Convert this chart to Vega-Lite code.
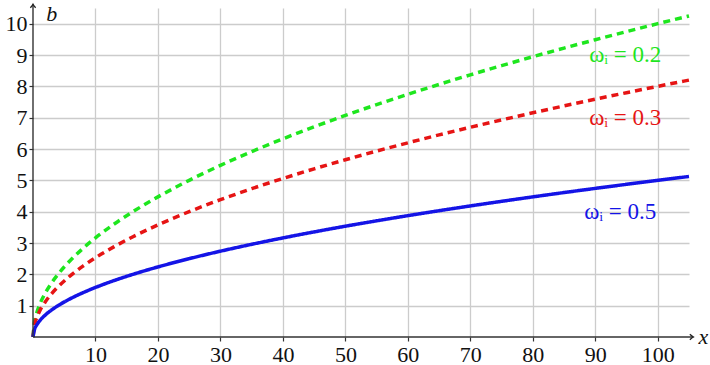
{
  "$schema": "https://vega.github.io/schema/vega-lite/v6.json",
  "width": 656,
  "height": 329,
  "autosize": {"type": "none"},
  "padding": {"left": 33, "top": 8, "right": 21, "bottom": 28},
  "background": "white",
  "config": {
    "view": {"stroke": null},
    "axis": {"labelFont": "Liberation Serif", "labelFontSize": 22, "labelColor": "#111", "labelOverlap": false, "gridColor": "#cccccc", "gridWidth": 1.3, "domain": false, "tickColor": "#333", "tickSize": 4, "tickWidth": 1.2, "title": null}
  },
  "datasets": {
    "curves": [
      {"x": 0, "b": 0, "s": "0.2"}, {"x": 0.25, "b": 0.5, "s": "0.2"}, {"x": 0.5, "b": 0.707, "s": "0.2"}, {"x": 1, "b": 1, "s": "0.2"}, {"x": 2, "b": 1.414, "s": "0.2"}, {"x": 3, "b": 1.732, "s": "0.2"}, {"x": 4, "b": 2, "s": "0.2"}, {"x": 6, "b": 2.449, "s": "0.2"}, {"x": 8, "b": 2.828, "s": "0.2"}, {"x": 10, "b": 3.162, "s": "0.2"}, {"x": 13, "b": 3.606, "s": "0.2"}, {"x": 16, "b": 4, "s": "0.2"}, {"x": 20, "b": 4.472, "s": "0.2"}, {"x": 25, "b": 5, "s": "0.2"}, {"x": 30, "b": 5.477, "s": "0.2"}, {"x": 35, "b": 5.916, "s": "0.2"}, {"x": 40, "b": 6.325, "s": "0.2"}, {"x": 45, "b": 6.708, "s": "0.2"}, {"x": 50, "b": 7.071, "s": "0.2"}, {"x": 55, "b": 7.416, "s": "0.2"}, {"x": 60, "b": 7.746, "s": "0.2"}, {"x": 65, "b": 8.062, "s": "0.2"}, {"x": 70, "b": 8.367, "s": "0.2"}, {"x": 75, "b": 8.66, "s": "0.2"}, {"x": 80, "b": 8.944, "s": "0.2"}, {"x": 85, "b": 9.22, "s": "0.2"}, {"x": 90, "b": 9.487, "s": "0.2"}, {"x": 95, "b": 9.747, "s": "0.2"}, {"x": 100, "b": 10, "s": "0.2"}, {"x": 105, "b": 10.247, "s": "0.2"},
      {"x": 0, "b": 0, "s": "0.3"}, {"x": 0.25, "b": 0.4, "s": "0.3"}, {"x": 0.5, "b": 0.566, "s": "0.3"}, {"x": 1, "b": 0.8, "s": "0.3"}, {"x": 2, "b": 1.131, "s": "0.3"}, {"x": 3, "b": 1.386, "s": "0.3"}, {"x": 4, "b": 1.6, "s": "0.3"}, {"x": 6, "b": 1.96, "s": "0.3"}, {"x": 8, "b": 2.263, "s": "0.3"}, {"x": 10, "b": 2.53, "s": "0.3"}, {"x": 13, "b": 2.884, "s": "0.3"}, {"x": 16, "b": 3.2, "s": "0.3"}, {"x": 20, "b": 3.578, "s": "0.3"}, {"x": 25, "b": 4, "s": "0.3"}, {"x": 30, "b": 4.382, "s": "0.3"}, {"x": 35, "b": 4.733, "s": "0.3"}, {"x": 40, "b": 5.06, "s": "0.3"}, {"x": 45, "b": 5.367, "s": "0.3"}, {"x": 50, "b": 5.657, "s": "0.3"}, {"x": 55, "b": 5.933, "s": "0.3"}, {"x": 60, "b": 6.197, "s": "0.3"}, {"x": 65, "b": 6.45, "s": "0.3"}, {"x": 70, "b": 6.693, "s": "0.3"}, {"x": 75, "b": 6.928, "s": "0.3"}, {"x": 80, "b": 7.155, "s": "0.3"}, {"x": 85, "b": 7.376, "s": "0.3"}, {"x": 90, "b": 7.589, "s": "0.3"}, {"x": 95, "b": 7.797, "s": "0.3"}, {"x": 100, "b": 8, "s": "0.3"}, {"x": 105, "b": 8.198, "s": "0.3"},
      {"x": 0, "b": 0, "s": "0.5"}, {"x": 0.25, "b": 0.25, "s": "0.5"}, {"x": 0.5, "b": 0.354, "s": "0.5"}, {"x": 1, "b": 0.5, "s": "0.5"}, {"x": 2, "b": 0.707, "s": "0.5"}, {"x": 3, "b": 0.866, "s": "0.5"}, {"x": 4, "b": 1, "s": "0.5"}, {"x": 6, "b": 1.225, "s": "0.5"}, {"x": 8, "b": 1.414, "s": "0.5"}, {"x": 10, "b": 1.581, "s": "0.5"}, {"x": 13, "b": 1.803, "s": "0.5"}, {"x": 16, "b": 2, "s": "0.5"}, {"x": 20, "b": 2.236, "s": "0.5"}, {"x": 25, "b": 2.5, "s": "0.5"}, {"x": 30, "b": 2.739, "s": "0.5"}, {"x": 35, "b": 2.958, "s": "0.5"}, {"x": 40, "b": 3.162, "s": "0.5"}, {"x": 45, "b": 3.354, "s": "0.5"}, {"x": 50, "b": 3.536, "s": "0.5"}, {"x": 55, "b": 3.708, "s": "0.5"}, {"x": 60, "b": 3.873, "s": "0.5"}, {"x": 65, "b": 4.031, "s": "0.5"}, {"x": 70, "b": 4.183, "s": "0.5"}, {"x": 75, "b": 4.33, "s": "0.5"}, {"x": 80, "b": 4.472, "s": "0.5"}, {"x": 85, "b": 4.61, "s": "0.5"}, {"x": 90, "b": 4.743, "s": "0.5"}, {"x": 95, "b": 4.873, "s": "0.5"}, {"x": 100, "b": 5, "s": "0.5"}, {"x": 105, "b": 5.123, "s": "0.5"}
    ],
    "labels": [
      {"x": 94.8, "b": 9.0, "s": "0.2", "t": "ωᵢ = 0.2"},
      {"x": 94.8, "b": 7.0, "s": "0.3", "t": "ωᵢ = 0.3"},
      {"x": 94.0, "b": 4.0, "s": "0.5", "t": "ωᵢ = 0.5"}
    ],
    "axes": [
      {"x": 0, "x2": 105.7, "b": 0, "b2": 0},
      {"x": 0, "x2": 0, "b": 0, "b2": 10.62}
    ],
    "arrowX": [{"x": 105.7, "b": 0}],
    "arrowY": [{"x": 0, "b": 10.62}],
    "titles": [
      {"x": 107.3, "b": 0, "t": "x"},
      {"x": 3.0, "b": 10.3, "t": "b"}
    ]
  },
  "encoding": {
    "x": {"field": "x", "type": "quantitative", "scale": {"domain": [0, 105], "nice": false, "zero": false},
          "axis": {"values": [10, 20, 30, 40, 50, 60, 70, 80, 90, 100], "labelPadding": 3, "labelOverlap": false}},
    "y": {"field": "b", "type": "quantitative", "scale": {"domain": [0, 10.5], "nice": false, "zero": false},
          "axis": {"values": [1, 2, 3, 4, 5, 6, 7, 8, 9, 10], "labelPadding": 2, "labelOverlap": false, "labelFlush": false, "labelBound": false}}
  },
  "layer": [
    {
      "data": {"name": "curves"},
      "mark": {"type": "line", "strokeWidth": 3.5, "interpolate": "monotone", "clip": false},
      "encoding": {
        "color": {"field": "s", "type": "nominal", "scale": {"domain": ["0.2", "0.3", "0.5"], "range": ["#1ee61e", "#e61414", "#1414e6"]}, "legend": null},
        "strokeDash": {"field": "s", "type": "nominal", "scale": {"domain": ["0.2", "0.3", "0.5"], "range": [[7, 5], [7, 5], [1, 0]]}, "legend": null},
        "detail": {"field": "s"}
      }
    },
    {
      "data": {"name": "labels"},
      "mark": {"type": "text", "font": "Liberation Serif", "fontSize": 23, "align": "center", "baseline": "middle"},
      "encoding": {
        "text": {"field": "t"},
        "color": {"field": "s", "type": "nominal", "legend": null}
      }
    },
    {
      "data": {"name": "axes"},
      "mark": {"type": "rule", "color": "#333", "strokeWidth": 1.4, "clip": false},
      "encoding": {
        "x2": {"field": "x2"},
        "y2": {"field": "b2"}
      }
    },
    {
      "data": {"name": "arrowX"},
      "mark": {"type": "point", "shape": "M -1 -0.75 Q -0.4 -0.2 0 0 Q -0.4 0.2 -1 0.75", "filled": false, "stroke": "#222", "strokeWidth": 1.3, "size": 50, "opacity": 1, "clip": false},
      "encoding": {}
    },
    {
      "data": {"name": "arrowY"},
      "mark": {"type": "point", "shape": "M -0.75 1 Q -0.2 0.4 0 0 Q 0.2 0.4 0.75 1", "filled": false, "stroke": "#222", "strokeWidth": 1.3, "size": 50, "opacity": 1, "clip": false},
      "encoding": {}
    },
    {
      "data": {"name": "titles"},
      "mark": {"type": "text", "font": "Liberation Serif", "fontSize": 22, "fontStyle": "italic", "align": "center", "baseline": "middle", "color": "#111", "clip": false},
      "encoding": {
        "text": {"field": "t"}
      }
    }
  ]
}
